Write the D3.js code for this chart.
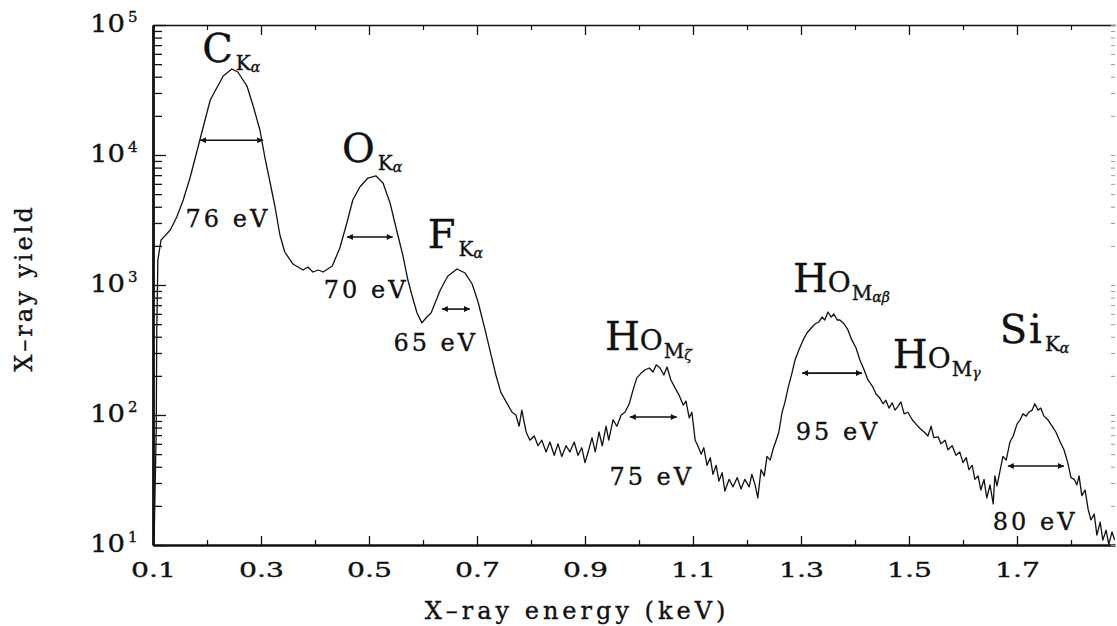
<!DOCTYPE html>
<html>
<head>
<meta charset="utf-8">
<script src="https://cdn.jsdelivr.net/npm/d3@7"></script>
<style>
  html, body { margin: 0; padding: 0; background: #fff; }
  svg { display: block; }
  text { font-family: "DejaVu Serif", serif; fill: #111; stroke: #111; stroke-width: 0.35px; }
</style>
</head>
<body>
<svg id="chart" width="1117" height="626"></svg>
<script>
// Measured spectrum: photon energy (keV) and counts per channel
const energy = [0.102,0.106,0.107,0.109,0.115,0.122,0.132,0.144,0.156,0.169,0.182,0.193,0.206,0.219,0.230,0.246,0.257,0.274,0.285,0.298,
  0.307,0.317,0.326,0.335,0.344,0.359,0.378,0.387,0.396,0.406,0.415,0.432,0.446,0.459,0.470,0.483,0.498,0.513,0.526,0.539,
  0.552,0.563,0.572,0.582,0.589,0.598,0.607,0.615,0.632,0.646,0.663,0.678,0.691,0.702,0.715,0.726,0.735,0.744,0.756,0.765,
  0.772,0.778,0.783,0.791,0.798,0.806,0.813,0.820,0.828,0.835,0.843,0.850,0.857,0.865,0.872,0.880,0.887,0.894,0.900,0.907,
  0.913,0.919,0.926,0.932,0.939,0.944,0.952,0.959,0.967,0.974,0.982,0.989,0.996,1.004,1.011,1.019,1.026,1.032,1.039,1.046,
  1.052,1.059,1.067,1.074,1.082,1.087,1.093,1.098,1.104,1.109,1.115,1.120,1.126,1.132,1.137,1.143,1.148,1.154,1.159,1.167,
  1.174,1.182,1.189,1.196,1.204,1.209,1.215,1.220,1.226,1.232,1.237,1.243,1.248,1.254,1.259,1.265,1.270,1.276,1.282,1.289,
  1.296,1.304,1.311,1.319,1.326,1.333,1.339,1.344,1.350,1.356,1.361,1.367,1.372,1.380,1.387,1.394,1.402,1.409,1.417,1.424,
  1.432,1.439,1.446,1.452,1.457,1.463,1.469,1.474,1.480,1.485,1.491,1.498,1.506,1.513,1.520,1.528,1.535,1.541,1.546,1.554,
  1.559,1.567,1.572,1.580,1.587,1.594,1.600,1.606,1.611,1.617,1.622,1.628,1.633,1.639,1.644,1.650,1.656,1.659,1.663,1.669,
  1.674,1.680,1.687,1.693,1.700,1.706,1.711,1.717,1.722,1.728,1.733,1.739,1.744,1.750,1.757,1.765,1.772,1.780,1.787,1.794,
  1.800,1.806,1.811,1.815,1.820,1.826,1.832,1.837,1.843,1.848,1.854,1.859,1.865,1.870,1.876,1.881];

const counts = [10.5,77,451,1557,2220,2385,2650,3335,4505,6770,10920,16410,26490,33340,40520,45890,43500,33950,24250,15570,
  9660,6090,3981,2425,1794,1451,1304,1374,1259,1304,1259,1400,1927,2999,4505,5675,6650,6895,6090,4274,
  2558,1671,1092,767,609,511,567,609,916,1172,1327,1236,1018,740,451,290,203,150,122,105,
  100,82,109,74,64,69,58,64,52,62,49,60,48,58,52,62,49,56,43,54,
  67,52,74,58,82,64,92,82,100,105,122,156,193,210,222,230,214,243,230,203,
  234,186,161,143,119,128,95,105,64,58,50,56,41,47,35,41,31,36,26,32,
  28,33,27,32,28,35,29,23,38,34,48,45,54,64,74,105,124,161,200,265,
  316,378,427,467,501,519,567,538,620,567,598,538,538,501,451,378,328,265,222,186,
  167,145,135,122,130,113,124,109,117,126,102,105,92,85,79,74,69,82,67,68,
  60,64,54,58,49,52,43,47,38,41,32,34,26.5,32,23,29,20.7,34,28.5,38,
  48,45,62,69,85,92,102,98,105,109,122,109,113,98,92,82,74,62,54,43,
  33,32,29,34,24,26.5,18.6,15.6,17.3,11.9,15,10.9,13,10.1,12.6,10.9];

// Axis ticks
const xMajorTicks = [0.1, 0.3, 0.5, 0.7, 0.9, 1.1, 1.3, 1.5, 1.7];
const xMinorTicks = [0.2, 0.4, 0.6, 0.8, 1.0, 1.2, 1.4, 1.6, 1.8];
const yExponents = [1, 2, 3, 4, 5];

// Emission-line labels: element, shell, sub-line, anchor energy and yield
const lineElements = ["C", "O", "F", "Ho", "Ho", "Ho", "Si"];
const lineShells   = ["K", "K", "K", "M", "M", "M", "K"];
const lineSubs     = ["α", "α", "α", "ζ", "αβ", "γ", "α"];
const lineEnergy   = [0.191, 0.450, 0.609, 0.937, 1.285, 1.470, 1.668];
const lineYield    = [51900, 8830, 1927, 316, 883, 230, 358];

// Peak widths (FWHM, eV) with their arrow spans and label anchors
const fwhmEv        = [76, 70, 65, 75, 95, 80];
const arrowFrom     = [0.187, 0.459, 0.635, 0.983, 1.302, 1.683];
const arrowTo       = [0.304, 0.544, 0.687, 1.070, 1.413, 1.787];
const arrowYield    = [13000, 2340, 653, 96.5, 210, 40.5];
const fwhmLabelE    = [0.235, 0.491, 0.620, 1.020, 1.365, 1.730];
const fwhmLabelY    = [2790, 794, 310, 29, 64, 13];

const svg = d3.select("#chart");
const x = d3.scaleLinear().domain([0.1, 1.8815]).range([153, 1115]);
const y = d3.scaleLog().domain([10, 1e5]).range([545, 25]);

const yMinor = [];
yExponents.slice(0, -1).forEach(e => {
  for (let m = 2; m <= 9; m++) yMinor.push(m * Math.pow(10, e));
});
const yMajor = yExponents.map(e => Math.pow(10, e));

const defs = svg.append("defs");
defs.append("clipPath").attr("id", "plotClip")
  .append("rect").attr("x", 153).attr("y", 25).attr("width", 962).attr("height", 520);
defs.append("marker")
  .attr("id", "head").attr("viewBox", "0 0 10 10")
  .attr("refX", 10).attr("refY", 5)
  .attr("markerWidth", 8).attr("markerHeight", 6)
  .attr("markerUnits", "userSpaceOnUse")
  .attr("orient", "auto-start-reverse")
  .append("path").attr("d", "M0,0L10,5L0,10Z").attr("fill", "#111");

function styleAxis(g, width) {
  g.select(".domain").attr("stroke", "#111").attr("stroke-width", width);
  g.selectAll(".tick line").attr("stroke", "#111").attr("stroke-width", 1.3);
}

// Bottom axis (major with labels, minor unlabeled)
svg.append("g").attr("transform", "translate(0,545)")
  .call(d3.axisBottom(x).tickValues(xMinorTicks).tickSize(-5).tickSizeOuter(0).tickFormat(""))
  .call(g => g.select(".domain").remove())
  .call(g => g.selectAll(".tick line").attr("stroke", "#111").attr("stroke-width", 1.3));
const xAxisG = svg.append("g").attr("transform", "translate(0,545)")
  .call(d3.axisBottom(x).tickValues(xMajorTicks).tickSize(-9).tickSizeOuter(0)
    .tickPadding(17).tickFormat(d3.format(".1f")))
  .call(g => styleAxis(g, 2.6));
xAxisG.selectAll(".tick text")
  .attr("font-family", "DejaVu Serif").attr("font-size", 21).attr("fill", "#111")
  .attr("textLength", 45).attr("lengthAdjust", "spacingAndGlyphs");

// Top axis
svg.append("g").attr("transform", "translate(0,25)")
  .call(d3.axisTop(x).tickValues(xMinorTicks).tickSize(-5).tickSizeOuter(0).tickFormat(""))
  .call(g => g.select(".domain").remove())
  .call(g => g.selectAll(".tick line").attr("stroke", "#111").attr("stroke-width", 1.2));
svg.append("g").attr("transform", "translate(0,25)")
  .call(d3.axisTop(x).tickValues(xMajorTicks).tickSize(-10).tickSizeOuter(0).tickFormat(""))
  .call(g => styleAxis(g, 1.6));

// Left axis
svg.append("g").attr("transform", "translate(153,0)")
  .call(d3.axisLeft(y).tickValues(yMinor).tickSize(-9).tickSizeOuter(0).tickFormat(""))
  .call(g => g.select(".domain").remove())
  .call(g => g.selectAll(".tick line").attr("stroke", "#111").attr("stroke-width", 1.3));
svg.append("g").attr("transform", "translate(153,0)")
  .call(d3.axisLeft(y).tickValues(yMajor).tickSize(-13).tickSizeOuter(0).tickFormat(""))
  .call(g => styleAxis(g, 2.8));

// Right axis: faint ticks only
svg.append("g").attr("transform", "translate(1115,0)")
  .call(d3.axisRight(y).tickValues(yMinor.concat(yMajor)).tickSize(-4).tickSizeOuter(0).tickFormat(""))
  .call(g => g.select(".domain").remove())
  .call(g => g.selectAll(".tick line").attr("stroke", "#999").attr("stroke-width", 1));

// Power-of-ten labels
const yLab = svg.append("g");
yExponents.forEach(e => {
  const v = Math.pow(10, e);
  yLab.append("text").attr("x", 125).attr("y", y(v) + 7)
    .attr("text-anchor", "end").attr("font-size", 24)
    .attr("textLength", 35).attr("lengthAdjust", "spacingAndGlyphs").text("10");
  yLab.append("text").attr("x", 128).attr("y", y(v) - 3)
    .attr("font-size", 15).text(String(e));
});

// Axis titles
svg.append("text").attr("x", 577).attr("y", 619).attr("text-anchor", "middle")
  .attr("font-size", 24).attr("letter-spacing", "4px").text("X–ray energy (keV)");
svg.append("text").attr("transform", "translate(32,288) rotate(-90)")
  .attr("text-anchor", "middle").attr("font-size", 24).attr("letter-spacing", "3px")
  .text("X–ray yield");

// Spectrum
const pts = energy.map((e, i) => [e, counts[i]]);
svg.append("path").datum(pts)
  .attr("clip-path", "url(#plotClip)")
  .attr("fill", "none").attr("stroke", "#111").attr("stroke-width", 1.3)
  .attr("stroke-linejoin", "round")
  .attr("d", d3.line().x(d => x(d[0])).y(d => y(d[1])));

// FWHM arrows and labels
const ann = svg.append("g");
fwhmEv.forEach((w, i) => {
  ann.append("line")
    .attr("x1", x(arrowFrom[i])).attr("x2", x(arrowTo[i]))
    .attr("y1", y(arrowYield[i])).attr("y2", y(arrowYield[i]))
    .attr("stroke", "#111").attr("stroke-width", 1.6)
    .attr("marker-start", "url(#head)").attr("marker-end", "url(#head)");
  ann.append("text")
    .attr("x", x(fwhmLabelE[i]) + 2).attr("y", y(fwhmLabelY[i]))
    .attr("text-anchor", "middle").attr("font-size", 24).attr("letter-spacing", "3px")
    .text(`${w} eV`);
});

// Emission-line names with subscripts
lineElements.forEach((el, i) => {
  const t = ann.append("text").attr("x", x(lineEnergy[i])).attr("y", y(lineYield[i]));
  if (el === "Ho") {
    t.append("tspan").attr("font-size", 40).text("H");
    t.append("tspan").attr("font-size", 40).style("font-variant", "small-caps").text("o");
  } else {
    t.append("tspan").attr("font-size", 40).attr("letter-spacing", "2px").text(el);
  }
  t.append("tspan").attr("font-size", 20).attr("dy", 8).attr("dx", 1).text(lineShells[i]);
  t.append("tspan").attr("font-size", 14).attr("dy", 2).attr("font-style", "italic").text(lineSubs[i]);
});
</script>
</body>
</html>
